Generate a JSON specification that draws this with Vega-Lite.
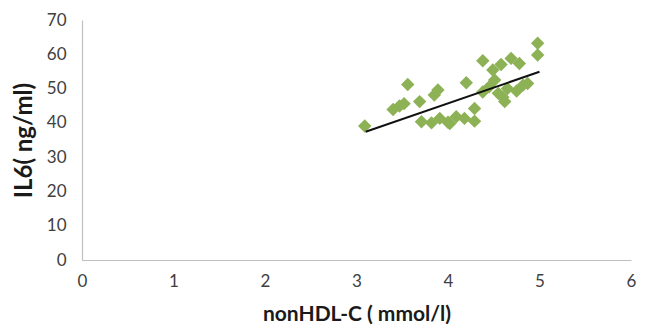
{
  "$schema": "https://vega.github.io/schema/vega-lite/v6.json",
  "autosize": "none",
  "width": 549,
  "height": 240,
  "padding": {"left": 82, "top": 20, "right": 18, "bottom": 67},
  "background": "white",
  "config": {"view": {"stroke": null}, "font": "Lato"},
  "datasets": {
    "pts": [
      {"x": 3.09, "y": 39.1}, {"x": 3.56, "y": 51.2}, {"x": 3.40, "y": 43.9}, {"x": 3.47, "y": 44.9},
      {"x": 3.52, "y": 45.6}, {"x": 3.69, "y": 46.2}, {"x": 3.71, "y": 40.3}, {"x": 3.82, "y": 40.0},
      {"x": 3.85, "y": 48.1}, {"x": 3.89, "y": 49.6}, {"x": 3.91, "y": 41.3}, {"x": 4.0, "y": 40.2},
      {"x": 4.09, "y": 41.8}, {"x": 4.02, "y": 39.8}, {"x": 4.18, "y": 41.3}, {"x": 4.20, "y": 51.7},
      {"x": 4.29, "y": 44.2}, {"x": 4.29, "y": 40.5}, {"x": 4.38, "y": 58.1}, {"x": 4.38, "y": 49.0},
      {"x": 4.49, "y": 55.4}, {"x": 4.58, "y": 57.0}, {"x": 4.51, "y": 52.5}, {"x": 4.55, "y": 48.6},
      {"x": 4.62, "y": 46.2}, {"x": 4.69, "y": 58.8}, {"x": 4.78, "y": 57.3}, {"x": 4.82, "y": 51.0},
      {"x": 4.87, "y": 51.5}, {"x": 4.75, "y": 49.3}, {"x": 4.98, "y": 63.2}, {"x": 4.98, "y": 59.8},
      {"x": 4.45, "y": 50.5}, {"x": 4.65, "y": 50.0}, {"x": 4.60, "y": 47.5}
    ],
    "trend": [{"x": 3.1, "y": 37.4}, {"x": 5.0, "y": 54.9}]
  },
  "encoding": {
    "x": {
      "field": "x", "type": "quantitative",
      "scale": {"domain": [0, 6], "nice": false},
      "axis": {
        "title": "nonHDL-C ( mmol/l)", "titleFontSize": 21, "titleFontWeight": "bold", "titleColor": "#1a1a1a",
        "titlePadding": 14, "values": [0, 1, 2, 3, 4, 5, 6], "format": "d",
        "labelFontSize": 17, "labelColor": "#404040", "labelPadding": 13, "labelFlush": false, "labelOverlap": false,
        "ticks": false, "grid": false, "domainColor": "#BFBFBF", "domainWidth": 1.2
      }
    },
    "y": {
      "field": "y", "type": "quantitative",
      "scale": {"domain": [0, 70], "nice": false},
      "axis": {
        "title": "IL6( ng/ml)", "titleFontSize": 24, "titleFontWeight": "bold", "titleColor": "#1a1a1a",
        "titlePadding": 10, "values": [0, 10, 20, 30, 40, 50, 60, 70], "format": "d",
        "labelFontSize": 17, "labelColor": "#404040", "labelPadding": 16, "labelFlush": false, "labelOverlap": false,
        "ticks": false, "grid": false, "domainColor": "#BFBFBF", "domainWidth": 1.2
      }
    }
  },
  "layer": [
    {
      "data": {"name": "pts"},
      "mark": {"type": "point", "shape": "diamond", "filled": true, "size": 180, "color": "#8DB255", "opacity": 1}
    },
    {
      "data": {"name": "trend"},
      "mark": {"type": "line", "color": "#111111", "strokeWidth": 2}
    }
  ]
}
